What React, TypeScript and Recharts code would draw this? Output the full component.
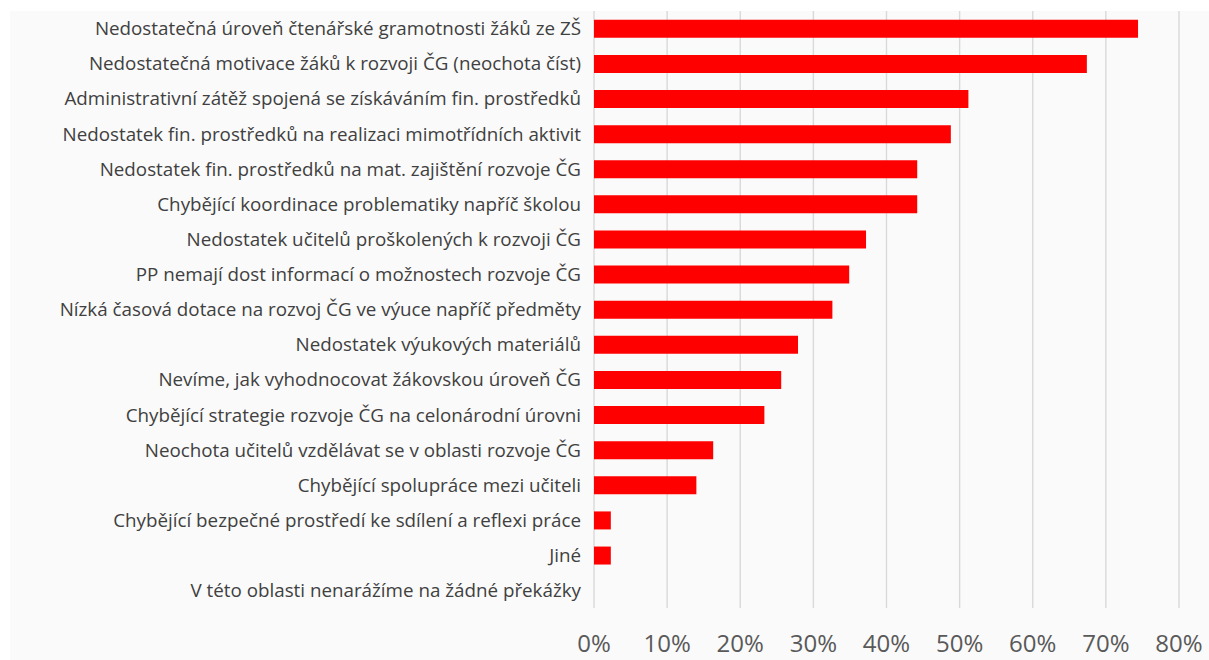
import { Bar, BarChart, CartesianGrid, XAxis, YAxis } from "recharts";

const categories = [
  "Nedostatečná úroveň čtenářské gramotnosti žáků ze ZŠ",
  "Nedostatečná motivace žáků k rozvoji ČG (neochota číst)",
  "Administrativní zátěž spojená se získáváním fin. prostředků",
  "Nedostatek fin. prostředků na realizaci mimotřídních aktivit",
  "Nedostatek fin. prostředků na mat. zajištění rozvoje ČG",
  "Chybějící koordinace problematiky napříč školou",
  "Nedostatek učitelů proškolených k rozvoji ČG",
  "PP nemají dost informací o možnostech rozvoje ČG",
  "Nízká časová dotace na rozvoj ČG ve výuce napříč předměty",
  "Nedostatek výukových materiálů",
  "Nevíme, jak vyhodnocovat žákovskou úroveň ČG",
  "Chybějící strategie rozvoje ČG na celonárodní úrovni",
  "Neochota učitelů vzdělávat se v oblasti rozvoje ČG",
  "Chybějící spolupráce mezi učiteli",
  "Chybějící bezpečné prostředí ke sdílení a reflexi práce",
  "Jiné",
  "V této oblasti nenarážíme na žádné překážky",
];

// percent of respondents
const shares = [
  74.4, 67.4, 51.2, 48.8, 44.2, 44.2, 37.2, 34.9, 32.6, 27.9, 25.6, 23.3, 16.3,
  14.0, 2.3, 2.3, 0,
];

const xTicks = [0, 10, 20, 30, 40, 50, 60, 70, 80];

const data = categories.map((name, i) => ({ name, value: shares[i] }));

export default function App() {
  return (
    <div style={{ position: "absolute", left: 0, top: 0, width: 1209, height: 660, background: "#fff" }}>
      <div
        style={{
          position: "absolute",
          left: 10,
          top: 11,
          width: 1199,
          height: 649,
          background: "#fafafa",
        }}
      />
      <div style={{ position: "absolute", left: 0, top: 0 }}>
        <BarChart
          width={1209}
          height={660}
          data={data}
          layout="vertical"
          margin={{ top: 11, right: 30, left: 0, bottom: 0 }}
          barCategoryGap="25%"
          style={{ fontFamily: "'Open Sans', sans-serif" }}
        >
          <CartesianGrid horizontal={false} stroke="#d9d9d9" strokeWidth={1.4} />
          <XAxis
            type="number"
            domain={[0, 80]}
            ticks={xTicks}
            tickFormatter={(v) => `${v}%`}
            axisLine={false}
            tickLine={false}
            height={52}
            tickMargin={21}
            tick={{ fill: "#595959", fontSize: 24 }}
          />
          <YAxis
            type="category"
            dataKey="name"
            width={594}
            axisLine={false}
            tickLine={false}
            tickMargin={7}
            interval={0}
            tick={{ fill: "#404040", fontSize: 18.8 }}
          />
          <Bar dataKey="value" fill="#ff0000" isAnimationActive={false} />
        </BarChart>
      </div>
    </div>
  );
}
